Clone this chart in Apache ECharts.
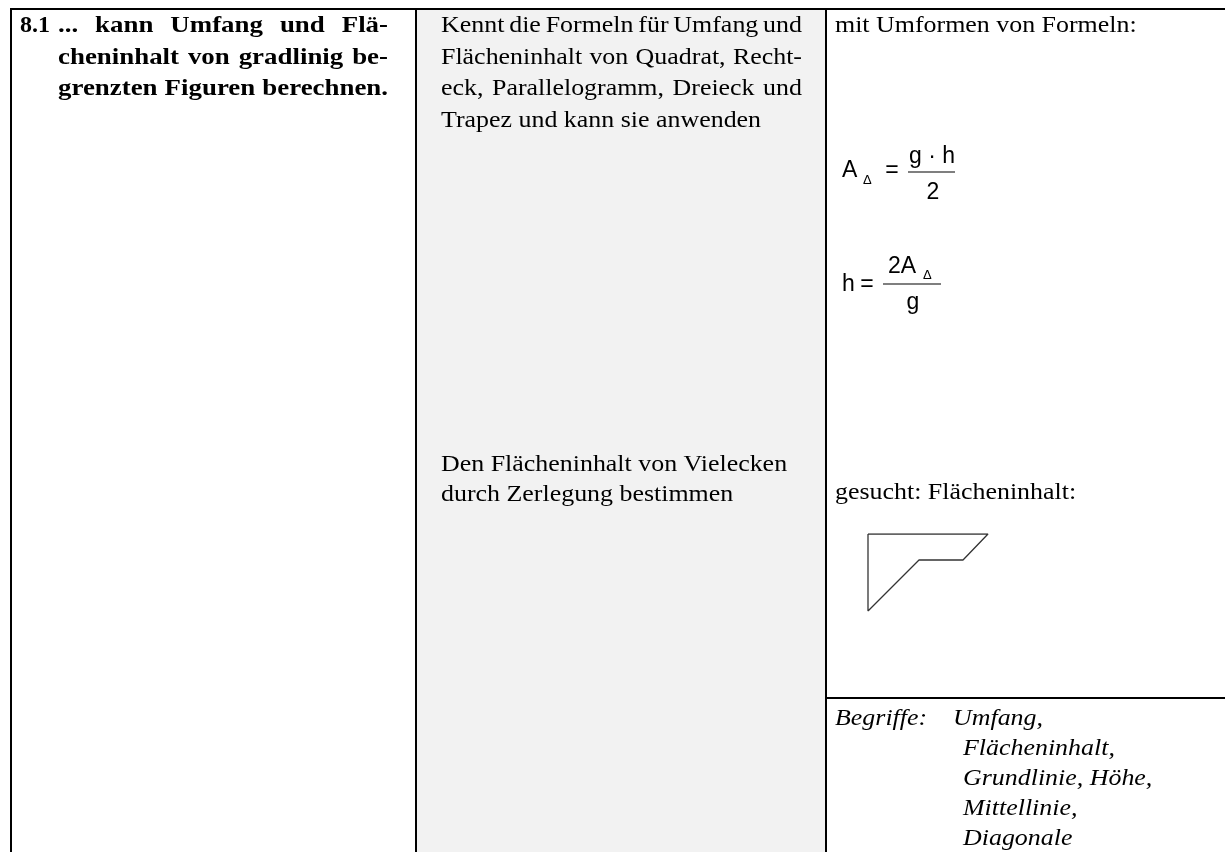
<!DOCTYPE html>
<html>
<head>
<meta charset="utf-8">
<script src="https://cdn.jsdelivr.net/npm/echarts@6/dist/echarts.min.js"></script>
<style>
  html, body { margin: 0; padding: 0; background: #fff; }
  #main { width: 1225px; height: 852px; }
</style>
</head>
<body>
<div id="main"></div>
<script>
// Tabelleninhalt (Texte) und Figur-Eckpunkte
const sectionNo = '8.1';
const goalLines = ['... kann Umfang und Flä-', 'cheninhalt von gradlinig be-', 'grenzten Figuren berechnen.'];
const skillLines1 = ['Kennt die Formeln für Umfang und', 'Flächeninhalt von Quadrat, Recht-', 'eck, Parallelogramm, Dreieck und', 'Trapez und kann sie anwenden'];
const skillLines2 = ['Den Flächeninhalt von Vielecken', 'durch Zerlegung bestimmen'];
const exampleHead = 'mit Umformen von Formeln:';
const exampleTask = 'gesucht: Flächeninhalt:';
const termsLabel = 'Begriffe:';
const termsLines = ['Umfang,', 'Flächeninhalt,', 'Grundlinie, Höhe,', 'Mittellinie,', 'Diagonale'];
// Figur (Vieleck) in eigenen Einheiten
const figureX = [0, 120, 95, 51, 0, 0];
const figureY = [0, 0, 26, 26, 77, 0];

(function(){
    const chart = echarts.init(document.getElementById('main'), null, {renderer: 'canvas'});
    const SERIF = '"Liberation Serif", "Times New Roman", serif';
    const SANS = '"Liberation Sans", Arial, sans-serif';
    const SX = 1.08;    // horizontale Dehnung der Serifenschrift
    const SXB = 1.12;   // fett
    const ctx = document.createElement('canvas').getContext('2d');
    const g = [];

    function measure(t, font){ ctx.font = font; return ctx.measureText(t).width; }

    // Text per Grundlinie platzieren (middle = Grundlinie - 0.33em)
    function txt(x, base, text, font, size, opt){
        opt = opt || {};
        g.push({type: 'text', x: x, y: base - size * 0.33, scaleX: opt.sx || 1, silent: true, z: 10,
            style: {text: text, font: font, fill: '#000', align: opt.align || 'left', verticalAlign: 'middle'}});
    }
    // Blocksatz: Woerter zwischen x1 und x2 verteilen
    function justify(x1, x2, base, line, font, size, sx){
        const words = line.split(' ');
        const ws = words.map(w => measure(w, font) * sx);
        const gap = (x2 - x1 - ws.reduce((a, b) => a + b, 0)) / (words.length - 1);
        let x = x1;
        words.forEach((w, i) => { txt(x, base, w, font, size, {sx: sx}); x += ws[i] + gap; });
    }
    // mode: 'left' | 'justify' (ohne letzte Zeile) | 'all'
    function para(x1, x2, base0, step, arr, font, size, mode, sx){
        sx = sx || SX;
        arr.forEach((t, i) => {
            const b = base0 + i * step;
            const j = mode === 'all' || (mode === 'justify' && i < arr.length - 1);
            if (j) justify(x1, x2, b, t, font, size, sx);
            else txt(x1, b, t, font, size, {sx: sx});
        });
    }
    function hline(x1, x2, y, w){
        g.push({type: 'line', silent: true, z: 5, shape: {x1: x1, y1: y, x2: x2, y2: y}, style: {stroke: '#000', lineWidth: w}});
    }
    function vline(x, y1, y2, w){
        g.push({type: 'line', silent: true, z: 5, shape: {x1: x, y1: y1, x2: x, y2: y2}, style: {stroke: '#000', lineWidth: w}});
    }

    // Hintergrund mittlere Spalte
    g.push({type: 'rect', silent: true, z: 1, shape: {x: 417, y: 10, width: 409, height: 842}, style: {fill: '#f2f2f2'}});
    // Rahmen
    hline(10, 1225, 9, 2);
    vline(11, 8, 852, 2);
    vline(416, 8, 852, 2);
    vline(826, 8, 852, 2);
    hline(826, 1225, 698, 2);

    const FS = 24;
    const bold = 'bold ' + FS + 'px ' + SERIF;
    const reg = FS + 'px ' + SERIF;
    const ital = 'italic ' + FS + 'px ' + SERIF;

    // linke Spalte
    txt(20, 34, sectionNo, bold, FS);
    para(58, 388, 34, 31.5, goalLines, bold, FS, 'all', SXB);

    // mittlere Spalte
    para(441, 802, 34, 31.5, skillLines1, reg, FS, 'justify');
    para(441, 802, 473, 29.5, skillLines2, reg, FS, 'left');

    // rechte Spalte
    txt(835, 34, exampleHead, reg, FS, {sx: SX});
    txt(835, 501, exampleTask, reg, FS, {sx: SX});

    // Formeln
    const F = 23, f = F + 'px ' + SANS, fs = '13px ' + SANS;
    txt(842, 178, 'A', f, F);
    txt(863, 185, 'Δ', fs, 13);
    txt(892, 178, '=', f, F, {align: 'center'});
    txt(932, 164, 'g · h', f, F, {align: 'center'});
    hline(908, 955, 172, 1.2);
    txt(933, 200, '2', f, F, {align: 'center'});

    txt(842, 292, 'h', f, F);
    txt(867, 292, '=', f, F, {align: 'center'});
    txt(888, 274, '2A', f, F);
    txt(923, 280, 'Δ', fs, 13);
    hline(883, 941, 284, 1.2);
    txt(913, 310, 'g', f, F, {align: 'center'});

    // Begriffe
    txt(835, 727, termsLabel, ital, FS, {sx: SX});
    txt(953, 727, termsLines[0], ital, FS, {sx: SX});
    para(963, 1200, 757, 30, termsLines.slice(1), ital, FS, 'left');

    chart.setOption({
        animation: false,
        grid: {left: 868, top: 534, width: 120, height: 77},
        xAxis: {type: 'value', min: 0, max: 120, show: false},
        yAxis: {type: 'value', min: 0, max: 77, inverse: true, show: false},
        series: [{
            type: 'line',
            data: figureX.map((x, i) => [x, figureY[i]]),
            symbol: 'none',
            smooth: false,
            silent: true,
            lineStyle: {color: '#333', width: 1.3}
        }],
        graphic: g
    });
})();
</script>
</body>
</html>
